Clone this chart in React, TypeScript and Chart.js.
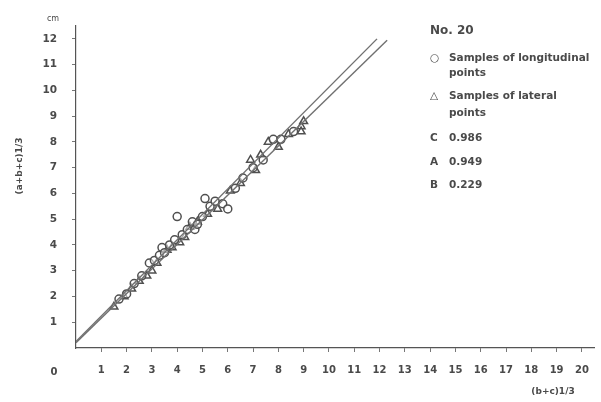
import React, { useEffect, useRef } from "react";
import { Chart, registerables } from "chart.js";

Chart.register(...registerables);

const xTickValues = [1, 2, 3, 4, 5, 6, 7, 8, 9, 10, 11, 12, 13, 14, 15, 16, 17, 18, 19, 20];
const yTickValues = [1, 2, 3, 4, 5, 6, 7, 8, 9, 10, 11, 12];

const longitudinalX = [1.7, 2.0, 2.3, 2.6, 2.9, 3.1, 3.3, 3.4, 3.5, 3.7, 3.9, 4.0, 4.2, 4.4, 4.6, 4.7, 4.8, 5.0, 5.1, 5.3, 5.5, 5.8, 6.0, 6.3, 6.6, 7.0, 7.4, 7.8, 8.1, 8.6];
const longitudinalY = [1.9, 2.1, 2.5, 2.8, 3.3, 3.4, 3.6, 3.9, 3.7, 4.0, 4.2, 5.1, 4.4, 4.6, 4.9, 4.6, 4.8, 5.1, 5.8, 5.5, 5.7, 5.6, 5.4, 6.2, 6.6, 7.0, 7.3, 8.1, 8.1, 8.4];

const lateralX = [1.5, 1.9, 2.2, 2.5, 2.8, 3.0, 3.2, 3.6, 3.8, 4.1, 4.3, 4.5, 4.8, 5.2, 5.6, 6.1, 6.5, 6.9, 7.1, 7.3, 7.6, 8.0, 8.4, 8.9, 8.9, 9.0];
const lateralY = [1.6, 2.0, 2.3, 2.6, 2.8, 3.0, 3.3, 3.8, 3.9, 4.1, 4.3, 4.7, 4.9, 5.2, 5.4, 6.1, 6.4, 7.3, 6.9, 7.5, 8.0, 7.8, 8.3, 8.6, 8.4, 8.8];

const lineCX = [0, 11.9];
const lineCY = [0.25, 12.0];
const lineAX = [0, 12.3];
const lineAY = [0.2, 11.95];

const legendTitle = "No. 20";
const legendRows = [
  { sym: "○", text: "Samples of longitudinal", y: 58 },
  { sym: "", text: "points", y: 73 },
  { sym: "△", text: "Samples of lateral", y: 96 },
  { sym: "", text: "points", y: 113 },
  { sym: "C", text: "0.986", y: 138 },
  { sym: "A", text: "0.949", y: 162 },
  { sym: "B", text: "0.229", y: 185 },
];

const yTitle = "(a+b+c)1/3";
const xTitle = "(b+c)1/3";
const unitLabel = "cm";

const INK = "#4a4a4a";
const FONT = '"DejaVu Sans", sans-serif';

const zip = (xs: number[], ys: number[]) => xs.map((x, i) => ({ x, y: ys[i] }));

const textPlugin = {
  id: "annotText",
  afterDraw(chart: any) {
    const ctx = chart.ctx;
    ctx.save();
    ctx.fillStyle = INK;
    ctx.textBaseline = "middle";
    ctx.textAlign = "left";
    ctx.font = `bold 12px ${FONT}`;
    ctx.fillText(legendTitle, 430, 31);
    ctx.font = `bold 10.5px ${FONT}`;
    for (const r of legendRows) {
      if (r.sym) ctx.fillText(r.sym, 430, r.y);
      ctx.fillText(r.text, 449, r.y);
    }
    ctx.font = `bold 10px ${FONT}`;
    ctx.textAlign = "center";
    ctx.fillText("0", 54, 372);
    ctx.font = `8px ${FONT}`;
    ctx.fillText(unitLabel, 53, 19);
    ctx.font = `bold 9px ${FONT}`;
    ctx.fillText(xTitle, 553, 392);
    ctx.translate(20, 166);
    ctx.rotate(-Math.PI / 2);
    ctx.fillText(yTitle, 0, 0);
    ctx.restore();
  },
};

export default function App() {
  const ref = useRef<HTMLCanvasElement | null>(null);
  useEffect(() => {
    if (!ref.current) return;
    const chart = new Chart(ref.current, {
      type: "scatter",
      data: {
        datasets: [
          {
            label: "line C",
            type: "line",
            data: zip(lineCX, lineCY),
            borderColor: "#707070",
            borderWidth: 1.4,
            pointRadius: 0,
            fill: false,
          },
          {
            label: "line A",
            type: "line",
            data: zip(lineAX, lineAY),
            borderColor: "#707070",
            borderWidth: 1.4,
            pointRadius: 0,
            fill: false,
          },
          {
            label: "Samples of longitudinal points",
            data: zip(longitudinalX, longitudinalY),
            pointStyle: "circle",
            pointRadius: 4,
            borderColor: "#505050",
            backgroundColor: "rgba(255,255,255,0.5)",
            borderWidth: 1.5,
          },
          {
            label: "Samples of lateral points",
            data: zip(lateralX, lateralY),
            pointStyle: "triangle",
            pointRadius: 4.5,
            borderColor: "#505050",
            backgroundColor: "rgba(255,255,255,0.5)",
            borderWidth: 1.5,
          },
        ] as any,
      },
      plugins: [textPlugin],
      options: {
        animation: false,
        responsive: false,
        maintainAspectRatio: false,
        layout: { padding: { top: 26, right: 6, left: 0, bottom: 0 } },
        plugins: { legend: { display: false }, tooltip: { enabled: false } },
        scales: {
          x: {
            type: "linear",
            min: 0,
            max: 20.5,
            afterBuildTicks: (s: any) => {
              s.ticks = xTickValues.map((v) => ({ value: v }));
            },
            afterFit: (s: any) => {
              s.height = 54;
            },
            border: { display: true, color: "#555", width: 1.2 },
            grid: { display: true, drawOnChartArea: false, drawTicks: true, tickLength: 4, color: "#777" },
            ticks: {
              padding: 12,
              color: INK,
              font: { family: FONT, size: 10, weight: "bold" },
              maxRotation: 0,
              autoSkip: false,
            },
          },
          y: {
            type: "linear",
            min: 0,
            max: 12.5,
            afterBuildTicks: (s: any) => {
              s.ticks = yTickValues.map((v) => ({ value: v }));
            },
            afterFit: (s: any) => {
              s.width = 76;
            },
            border: { display: true, color: "#555", width: 1.2 },
            grid: { display: true, drawOnChartArea: false, drawTicks: true, tickLength: 4, color: "#777" },
            ticks: {
              padding: 15,
              color: INK,
              font: { family: FONT, size: 10.5, weight: "bold" },
              autoSkip: false,
            },
          },
        },
      } as any,
    });
    return () => chart.destroy();
  }, []);
  return (
    <div style={{ position: "absolute", left: 0, top: 0, width: 601, height: 402, background: "#fff" }}>
      <canvas ref={ref} width={601} height={402} style={{ width: 601, height: 402 }} />
    </div>
  );
}
